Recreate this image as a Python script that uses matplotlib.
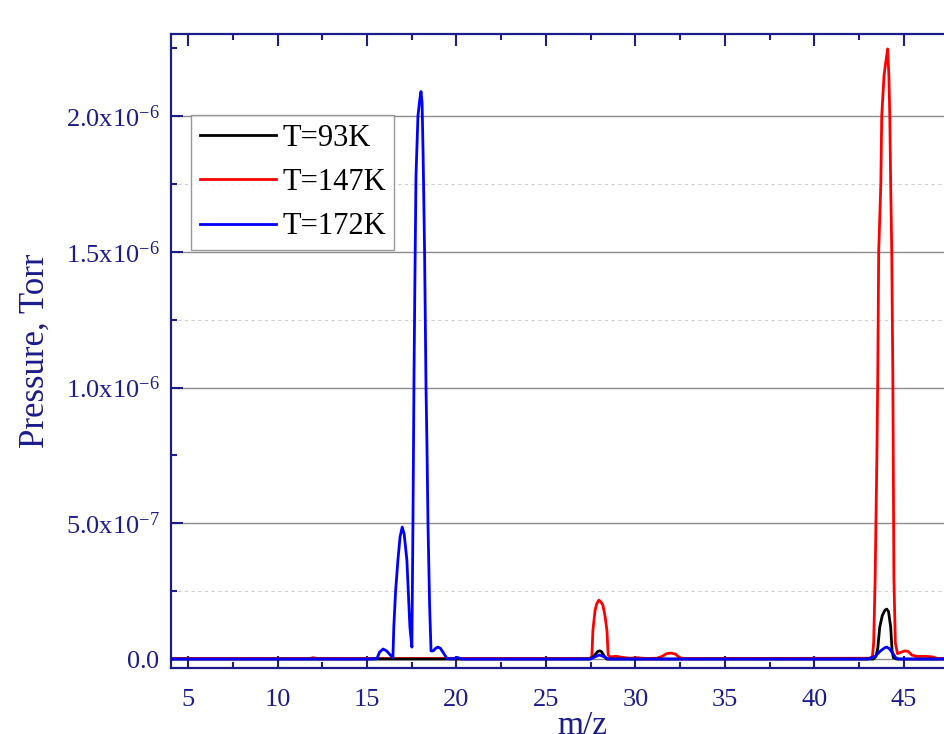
import matplotlib
matplotlib.use('Agg')
import matplotlib.pyplot as plt
from matplotlib.ticker import MultipleLocator, FixedLocator, FixedFormatter
import numpy as np

plt.rcParams['font.family'] = ['Liberation Serif', 'DejaVu Serif']
plt.rcParams['mathtext.fontset'] = 'custom'
plt.rcParams['mathtext.rm'] = 'Liberation Serif'

NAVY = '#1c1c8a'

# pressure values below are in units of 1e-7 Torr
SCALE = 1e-7

black_mz = [4.0, 27.46, 27.7, 27.9, 28.0, 28.1, 28.25, 28.4, 43.3, 43.45, 43.55,
            43.66, 43.8, 43.95, 44.05, 44.15, 44.27, 44.35, 44.42, 44.6, 50.0]
black_p = [0, 0, 0.12, 0.28, 0.3, 0.28, 0.12, 0, 0, 0.1, 0.4,
           1.18, 1.6, 1.8, 1.84, 1.75, 1.18, 0.3, 0.05, 0, 0]

red_mz = [4.0, 11.8, 12.0, 12.2, 27.45, 27.57, 27.63, 27.75, 27.85, 27.96, 28.07,
          28.18, 28.3, 28.41, 28.48, 28.6, 28.9, 29.3, 29.7, 30.1, 30.6, 31.2,
          31.5, 31.75, 32.0, 32.25, 32.45, 32.7, 43.1, 43.25, 43.32, 43.4, 43.5,
          43.55, 43.6, 43.72, 43.77, 43.9, 44.0, 44.1, 44.17, 44.22, 44.27, 44.33,
          44.39, 44.45, 44.53, 44.65, 44.85, 45.05, 45.25, 45.45, 45.7, 46.2,
          46.6, 46.9, 50.0]
red_p = [0.02, 0.02, 0.05, 0.02, 0.02, 0.1, 1.07, 1.8, 2.05, 2.17, 2.1,
         2.0, 1.6, 1.07, 0.15, 0.08, 0.1, 0.06, 0.03, 0.05, 0.02, 0.03,
         0.1, 0.2, 0.22, 0.18, 0.06, 0.02, 0.03, 0.1, 0.6, 2.9, 7.5,
         10.5, 15.0, 17.5, 20.0, 21.5, 22.0, 22.47, 21.5, 20.0, 17.5, 15.0,
         10.5, 3.0, 0.6, 0.2, 0.25, 0.3, 0.28, 0.15, 0.1, 0.1,
         0.08, 0.02, 0.02]

blue_mz = [4.0, 15.3, 15.56, 15.7, 15.9, 16.1, 16.3, 16.45, 16.5, 16.6, 16.73,
           16.85, 16.97, 17.08, 17.23, 17.4, 17.51, 17.55, 17.57, 17.63, 17.68,
           17.74, 17.85, 17.95, 18.02, 18.08, 18.14, 18.22, 18.30, 18.35, 18.41,
           18.5, 18.58, 18.7, 18.85, 18.97, 19.1, 19.3, 19.47, 19.8, 20.05, 20.3,
           27.5, 27.8, 28.0, 28.2, 28.5, 43.0, 43.4, 43.7, 43.95, 44.05, 44.2,
           44.4, 44.55, 44.7, 50.0]
blue_p = [0, 0, 0.02, 0.25, 0.37, 0.3, 0.15, 0.05, 1.18, 2.5, 3.65,
          4.5, 4.86, 4.6, 3.65, 1.18, 0.44, 3.5, 5.0, 10.5, 14.0,
          17.8, 20.0, 20.6, 20.9, 20.5, 18.5, 15.0, 10.0, 8.0, 5.0,
          2.0, 0.3, 0.3, 0.4, 0.44, 0.4, 0.2, 0.02, 0, 0.06, 0,
          0, 0.1, 0.15, 0.1, 0, 0, 0.1, 0.3, 0.42, 0.44, 0.38,
          0.2, 0.05, 0, 0]

labels = ['T=93K', 'T=147K', 'T=172K']
colors = ['black', 'red', 'blue']

xtick_values = [5, 10, 15, 20, 25, 30, 35, 40, 45]
ytick_values = [0, 5e-7, 1e-6, 1.5e-6, 2e-6]
ytick_labels = [r'$\mathregular{0.0}$', r'$\mathregular{5.0x10^{-7}}$',
                r'$\mathregular{1.0x10^{-6}}$', r'$\mathregular{1.5x10^{-6}}$',
                r'$\mathregular{2.0x10^{-6}}$']
ygrid_minor = [2.5e-7, 1.25e-6, 1.75e-6]

fig = plt.figure(figsize=(9.45, 7.34), dpi=100)
# axes run past the right edge of the picture (cropped original)
ax = fig.add_axes([0.181, 0.0899, 0.870, 0.8638])

series = [(black_mz, black_p), (red_mz, red_p), (blue_mz, blue_p)]
zorders = [4, 3, 5]  # red under black, blue on top
handles = []
for (mz, p), lab, col, z in zip(series, labels, colors, zorders):
    line, = ax.plot(mz, np.array(p) * SCALE, color=col, lw=2.0, label=lab, zorder=z)
    handles.append(line)

ax.set_xlim(4.05, 50)
ax.set_ylim(-3.3e-8, 2.302e-6)

ax.xaxis.set_major_locator(FixedLocator(xtick_values))
ax.xaxis.set_minor_locator(MultipleLocator(2.5))
ax.yaxis.set_major_locator(FixedLocator(ytick_values))
ax.yaxis.set_major_formatter(FixedFormatter(ytick_labels))
ax.yaxis.set_minor_locator(MultipleLocator(2.5e-7))

ax.grid(which='major', axis='y', color='#8c8c8c', lw=1.0, ls='-', zorder=0)
for yv in ygrid_minor:
    ax.axhline(yv, color='#d0d0d0', lw=0.8, ls=(0, (3, 3)), zorder=0)

for s in ax.spines.values():
    s.set_color(NAVY)
    s.set_linewidth(1.6)

ax.tick_params(which='both', direction='in', top=True, right=True,
               color=NAVY, width=1.5, labelcolor=NAVY, labelsize=19)
ax.tick_params(which='major', length=8.5)
ax.tick_params(which='minor', length=4.3)
ax.tick_params(axis='x', pad=15)
ax.tick_params(axis='y', pad=8)

ax.set_ylabel('Pressure, Torr', color=NAVY, fontsize=25, labelpad=10)
ax.set_xlabel('m/z', color=NAVY, fontsize=24, labelpad=0)

leg = ax.legend(handles=handles, loc='upper left', bbox_to_anchor=(0.0243, 0.872),
                borderaxespad=0, fontsize=22, frameon=True, fancybox=False,
                handlelength=2.5, handletextpad=0.2, labelspacing=0.5, borderpad=0.28)
leg.get_frame().set_edgecolor('#808080')
leg.get_frame().set_linewidth(1.0)
leg.set_zorder(6)

fig.savefig('out.png', dpi=100)
